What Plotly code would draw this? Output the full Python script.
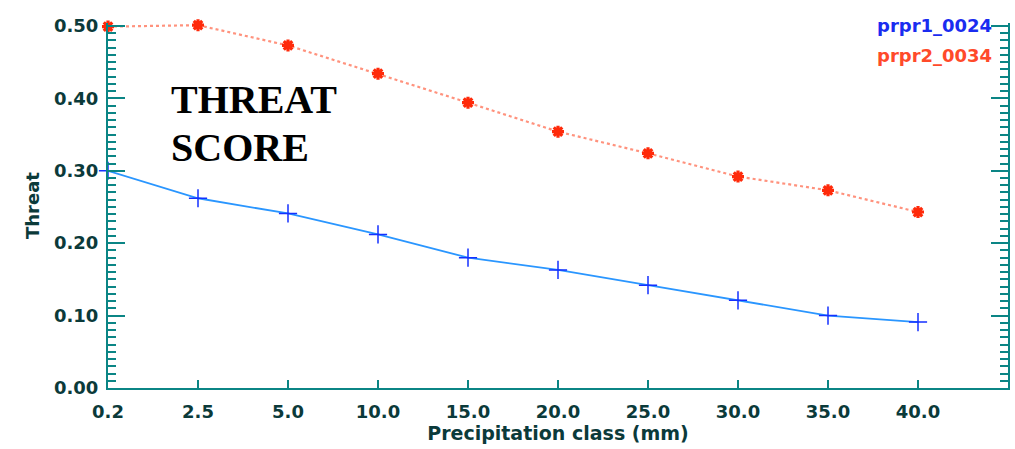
import plotly.graph_objects as go

# Precipitation classes (mm) shown along the x axis
classes = ["0.2", "2.5", "5.0", "10.0", "15.0", "20.0", "25.0", "30.0", "35.0", "40.0"]

# Threat score per class for each run
prpr1_0024 = [0.30, 0.262, 0.241, 0.212, 0.180, 0.163, 0.142, 0.121, 0.100, 0.091]
prpr2_0034 = [0.499, 0.501, 0.473, 0.434, 0.394, 0.354, 0.324, 0.292, 0.273, 0.243]

y_ticks = [0.0, 0.1, 0.2, 0.3, 0.4, 0.5]
y_ticktext = ["0.00", "0.10", "0.20", "0.30", "0.40", "0.50"]

idx = list(range(len(classes)))

AXIS = "#0b8585"
TEXT = "#0b3a3a"
TICKFONT = dict(family="DejaVu Sans", size=18, color=TEXT, weight="bold")

fig = go.Figure()

# Open symbols take their stroke colour from marker.color
fig.add_trace(go.Scatter(
    x=idx, y=prpr2_0034, mode="lines+markers", name="prpr2_0034",
    line=dict(color="rgba(255,100,70,0.7)", width=2.2, dash="dot"),
    marker=dict(symbol="asterisk-open", size=10, color="#ff2a0a",
                line=dict(color="#ff2a0a", width=3.2)),
    cliponaxis=False,
))

fig.add_trace(go.Scatter(
    x=idx, y=prpr1_0024, mode="lines+markers", name="prpr1_0024",
    line=dict(color="#2a96ff", width=1.8),
    marker=dict(symbol="cross-thin-open", size=13, color="#1530ff",
                line=dict(color="#1530ff", width=1.5)),
    cliponaxis=False,
))

# Series names, printed in the upper right like a legend
fig.add_annotation(text="<b>prpr1_0024</b>", xref="paper", yref="paper",
                   x=0.984, y=0.994, xanchor="right", yanchor="middle",
                   showarrow=False,
                   font=dict(family="DejaVu Sans", size=18, color="#1a2cf0"))
fig.add_annotation(text="<b>prpr2_0034</b>", xref="paper", yref="paper",
                   x=0.984, y=0.912, xanchor="right", yanchor="middle",
                   showarrow=False,
                   font=dict(family="DejaVu Sans", size=18, color="#ff4a2a"))

# Panel heading
for line, ypos in (("THREAT", 0.79), ("SCORE", 0.66)):
    fig.add_annotation(text="<b>%s</b>" % line, xref="paper", yref="paper",
                       x=0.068, y=ypos, xanchor="left", yanchor="middle",
                       showarrow=False,
                       font=dict(family="Liberation Serif", size=40, color="black"))

fig.update_layout(
    width=1015, height=449,
    margin=dict(l=108, r=5, t=23, b=61),
    paper_bgcolor="white", plot_bgcolor="white",
    showlegend=False,
    xaxis=dict(
        range=[0, 10], tickmode="array", tickvals=idx, ticktext=classes,
        showgrid=False, zeroline=False,
        showline=True, linecolor=AXIS, linewidth=2, mirror=False,
        ticks="inside", ticklen=8, tickwidth=1.5, tickcolor=AXIS,
        tickfont=TICKFONT, ticklabelstandoff=6,
        title=dict(text="<b>Precipitation class (mm)</b>",
                   font=dict(family="DejaVu Sans", size=19, color=TEXT),
                   standoff=2),
    ),
    yaxis=dict(
        range=[0, 0.504], tickmode="array", tickvals=y_ticks, ticktext=y_ticktext,
        showgrid=False, zeroline=False,
        showline=True, linecolor=AXIS, linewidth=2, mirror="ticks",
        ticks="inside", ticklen=17, tickwidth=1.5, tickcolor=AXIS,
        minor=dict(dtick=0.01, ticks="inside", ticklen=8, tickwidth=1.5,
                   tickcolor=AXIS, showgrid=False),
        tickfont=TICKFONT, ticklabelstandoff=4,
        title=dict(text="<b>Threat</b>",
                   font=dict(family="DejaVu Sans", size=18, color=TEXT),
                   standoff=10),
    ),
)

fig.write_html("out.html")
